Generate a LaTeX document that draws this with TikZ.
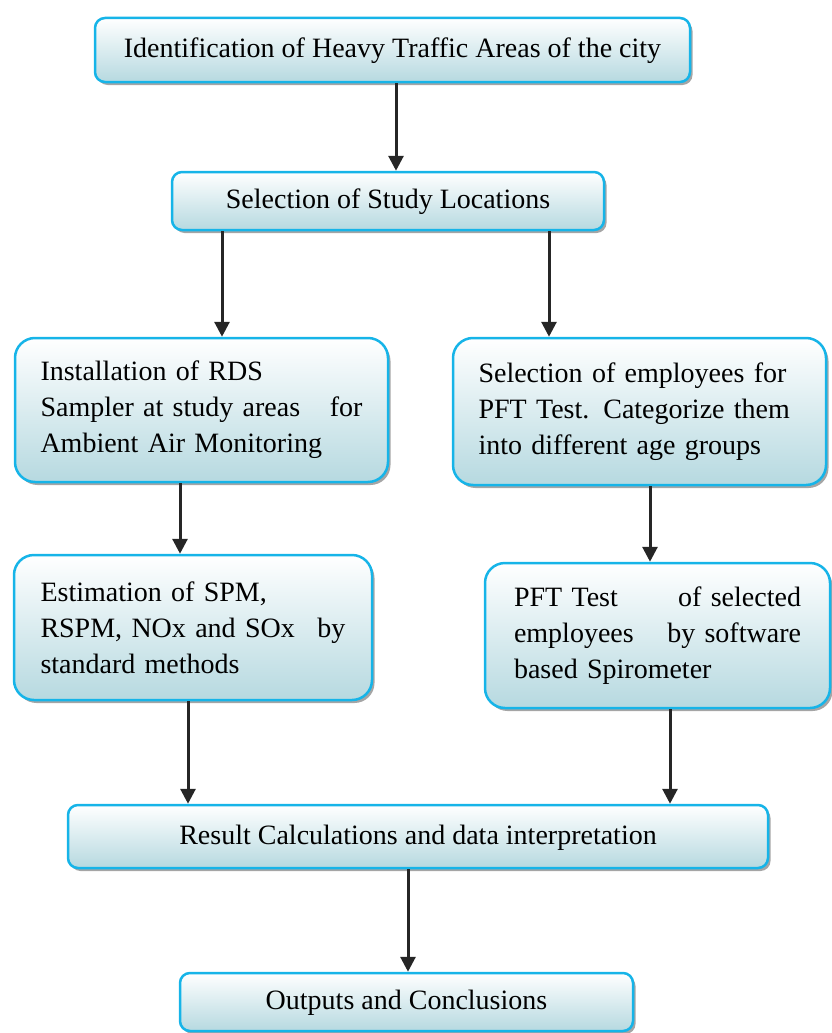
\documentclass[tikz,border=0pt]{standalone}
\usepackage{fontspec}
\setmainfont{Liberation Serif}
\usetikzlibrary{arrows.meta, positioning, shadows}
\definecolor{skyedge}{RGB}{22,180,232}
\definecolor{mist}{RGB}{182,217,224}

\begin{document}
\begin{tikzpicture}[x=1pt, y=-1pt, every node/.style={font=\fontsize{28}{36}\selectfont},
          box/.style={draw=skyedge, line width=2.5pt, rounded corners=10pt, top color=white,
                      bottom color=mist, inner sep=0pt, align=center, text depth=4pt,
                      drop shadow={shadow xshift=2.5pt, shadow yshift=-3pt, fill=black!70}},
          tall/.style={box, rounded corners=20pt, align=left, text depth=},
          ar/.style={-{Triangle[width=15pt, length=15pt]}, draw=black!85, line width=3pt}]
        \useasboundingbox (0,0) rectangle (832,1033);
        \node[box, minimum width=595pt, minimum height=64pt] (areas) at (392.5,50)
             {Identification of Heavy Traffic Areas of the city};
        \node[box, minimum width=432pt, minimum height=58pt] (sites) at (388,201)
             {Selection of Study Locations};
        \node[tall, minimum width=373pt, minimum height=144pt, text width=322pt] (rds) at (201.5,410)
             {Installation of RDS\\ Sampler at study areas \hfill for\\ Ambient Air Monitoring};
        \node[tall, minimum width=373pt, minimum height=147pt, text width=322pt] (staff) at (639.5,411.5)
             {Selection of employees for\\ PFT Test. Categorize them\\ into different age groups};
        \node[tall, minimum width=358pt, minimum height=145pt, text width=305pt] (spm) at (193,627.5)
             {Estimation of SPM,\\ RSPM, NOx and SOx \hfill by\\ standard methods};
        \node[tall, minimum width=345pt, minimum height=145pt, text width=287pt] (pft) at (657.5,635.5)
             {PFT Test \hfill of selected\\ employees \hfill by software\\ based Spirometer};
        \node[box, minimum width=700pt, minimum height=63pt] (result) at (418,836.5)
             {Result Calculations and data interpretation};
        \node[box, minimum width=453pt, minimum height=58pt] (outputs) at (406.5,1002)
             {Outputs and Conclusions};
        \draw[ar] ([xshift=3.5pt]areas.south) -- ([xshift=8pt]sites.north);
        \draw[ar] ([xshift=-166pt]sites.south) -- ([xshift=20.5pt]rds.north);
        \draw[ar] ([xshift=161pt]sites.south) -- ([xshift=-90.5pt]staff.north);
        \draw[ar] ([xshift=-21.5pt]rds.south) -- ([xshift=-13pt]spm.north);
        \draw[ar] ([xshift=10.5pt]staff.south) -- ([xshift=-7.5pt]pft.north);
        \draw[ar] ([xshift=-5pt]spm.south) -- ([xshift=-230pt]result.north);
        \draw[ar] ([xshift=12.5pt]pft.south) -- ([xshift=252pt]result.north);
        \draw[ar] ([xshift=-10pt]result.south) -- ([xshift=1.5pt]outputs.north);
      \end{tikzpicture}
\end{document}
